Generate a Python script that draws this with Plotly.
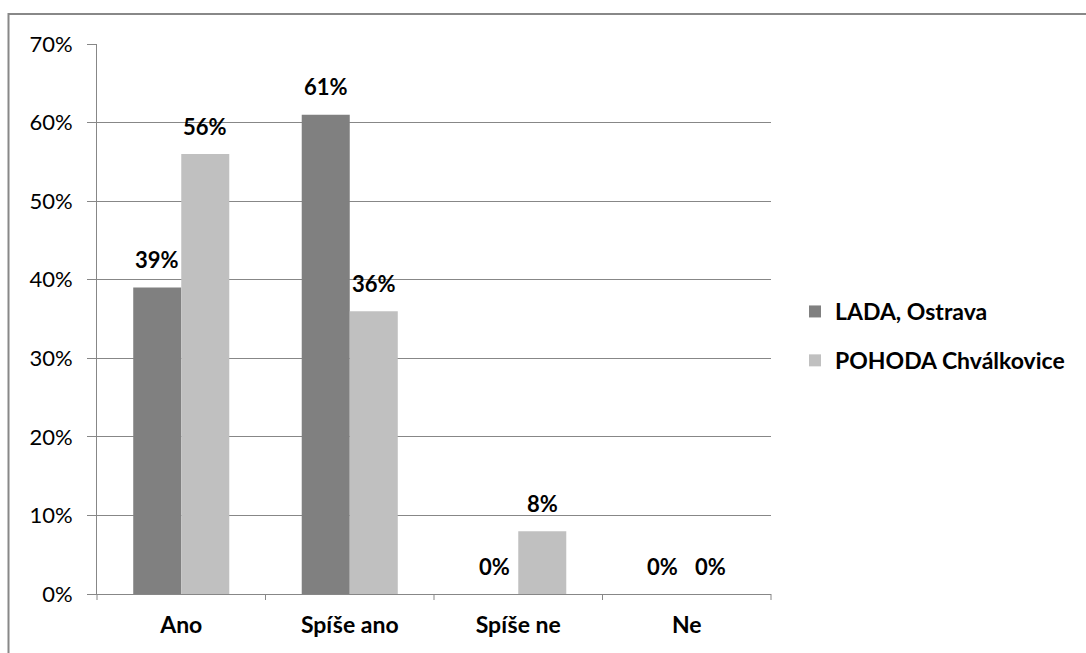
import plotly.graph_objects as go

categories = ["Ano", "Spíše ano", "Spíše ne", "Ne"]
series_names = ["LADA, Ostrava", "POHODA Chválkovice"]
lada = [39, 61, 0, 0]
pohoda = [56, 36, 8, 0]
y_ticks = [0, 10, 20, 30, 40, 50, 60, 70]

colors = ["#808080", "#C0C0C0"]
FONT = "Lato"
GRID = "#878787"
FS = 22
FS_B = 23

W, H = 1086, 653
L, R, T, B = 97, 315, 44, 59
plot_w = W - L - R
plot_h = H - T - B
bargap = 0.43
cat_px = plot_w / len(categories)
bar_px = cat_px * (1 - bargap) / 2

fig = go.Figure()
for i, (name, vals) in enumerate(zip(series_names, [lada, pohoda])):
    fig.add_trace(go.Bar(
        x=categories, y=vals, name=name,
        marker=dict(color=colors[i], line=dict(width=0)),
        legendgroup=name,
    ))
    shift = (i - 0.5) * bar_px
    for c, v in zip(categories, vals):
        fig.add_annotation(
            x=c, y=v, xref="x", yref="y",
            text=f"<b>{v}%</b>", showarrow=False,
            xshift=shift, yshift=28, yanchor="middle",
            font=dict(family=FONT, size=FS, color="#000000"),
        )

def px_to_paper_x(px):
    return (px - L) / plot_w

def px_to_paper_y(py):
    return (H - B - py) / plot_h

# outer chart frame
fig.add_shape(
    type="rect", xref="paper", yref="paper",
    x0=px_to_paper_x(8.5), x1=px_to_paper_x(1095),
    y0=px_to_paper_y(665), y1=px_to_paper_y(14),
    line=dict(color="#888888", width=2), fillcolor="rgba(0,0,0,0)",
    layer="below",
)

fig.update_layout(
    width=W, height=H,
    margin=dict(l=L, r=R, t=T, b=B),
    paper_bgcolor="white", plot_bgcolor="white",
    barmode="group", bargap=bargap, bargroupgap=0,
    font=dict(family=FONT, size=FS, color="#000000"),
    showlegend=True,
    legend=dict(
        x=px_to_paper_x(795), y=px_to_paper_y(336), xanchor="left", yanchor="middle",
        font=dict(family=FONT, size=FS_B, color="#000000", weight="bold"),
        traceorder="grouped", tracegroupgap=16,
        bgcolor="rgba(0,0,0,0)",
    ),
    xaxis=dict(
        showgrid=False, showline=True, linecolor=GRID, linewidth=1,
        ticks="", tickfont=dict(family=FONT, size=FS_B, weight="bold"),
        ticklabelstandoff=10, fixedrange=True,
    ),
    yaxis=dict(
        range=[0, 70], tickvals=y_ticks,
        ticktext=[f"{t}%" for t in y_ticks],
        showgrid=True, gridcolor=GRID, gridwidth=1,
        showline=True, linecolor=GRID, linewidth=1,
        ticks="outside", ticklen=9, tickcolor=GRID,
        ticklabelstandoff=10,
        tickfont=dict(family=FONT, size=FS),
        zeroline=False,
    ),
)

# category boundary tick marks on the x axis
for k in range(len(categories) + 1):
    fig.add_shape(
        type="line", xref="paper", yref="paper",
        x0=k / len(categories), x1=k / len(categories),
        y0=0, y1=-6 / plot_h,
        line=dict(color=GRID, width=1),
    )

fig.write_html("out.html")
